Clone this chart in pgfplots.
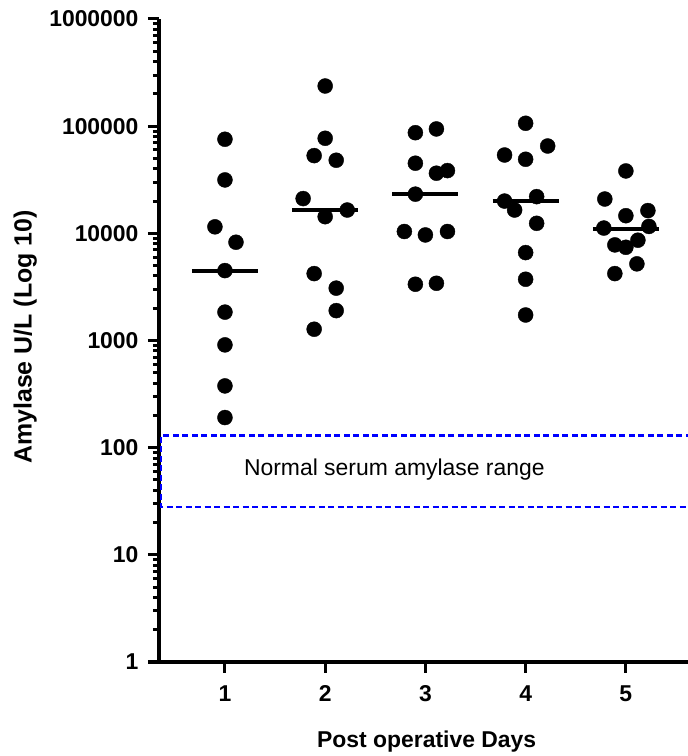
\documentclass[border=0pt]{standalone}
\usepackage{pgfplots}
\pgfplotsset{compat=1.18}
\usepackage{fontspec}
\setmainfont{Liberation Sans}

\newcommand{\lbl}{\fontsize{23}{27}\selectfont\bfseries}

\begin{document}
\begin{tikzpicture}
\begin{axis}[
  at={(159bp,94bp)}, anchor=south west,
  scale only axis, width=529bp, height=643bp,
  ymode=log, ymin=1, ymax=1000000,
  xmin=0.342, xmax=5.62,
  axis x line=bottom, axis y line=left,
  axis line style={-, line width=4bp},
  xtick={1,2,3,4,5},
  xticklabels={1,2,3,4,5},
  ytick={1,10,100,1000,10000,100000,1000000},
  yticklabels={1,10,100,1000,10000,100000,1000000},
  minor ytick={2,3,4,5,6,7,8,9,20,30,40,50,60,70,80,90,
    200,300,400,500,600,700,800,900,2000,3000,4000,5000,6000,7000,8000,9000,
    20000,30000,40000,50000,60000,70000,80000,90000,
    200000,300000,400000,500000,600000,700000,800000,900000},
  tick align=outside,
  major tick length=11bp, minor tick length=6bp,
  every tick/.style={black, line width=3bp},
  ticklabel style={font=\lbl},
  yticklabel style={xshift=-6bp},
  xticklabel style={yshift=-9bp},
  xlabel={Post operative Days},
  ylabel={Amylase U/L (Log 10)},
  xlabel style={font=\fontsize{23}{27}\selectfont\bfseries,
    at={(axis description cs:0.506,-0.1244)}, anchor=center},
  ylabel style={font=\fontsize{25}{29}\selectfont\bfseries,
    at={(axis description cs:-0.253,0.5054)}, anchor=center, rotate=0},
  clip=false,
]
% normal range box
\addplot[blue, line width=2.2bp, dash pattern=on 6bp off 3.5bp]
  coordinates {(5.75,130) (0.36,130) (0.36,28) (5.75,28)};
\node[font=\fontsize{23}{27}\selectfont] at (axis cs:2.69,63) {Normal serum amylase range};

% day 1
\addplot[only marks, mark=*, mark size=7.5bp, black] coordinates {
  (1,75500) (1,31500) (0.9,11500) (1.11,8260) (1,4490)
  (1,1840) (1,910) (1,377) (1,191)};
% day 2
\addplot[only marks, mark=*, mark size=7.5bp, black] coordinates {
  (2,237000) (2,77100) (1.89,53100) (2.11,48100) (1.78,21100) (2.22,16500)
  (2,14300) (1.89,4210) (2.11,3080) (2.11,1900) (1.89,1274)};
% day 3
\addplot[only marks, mark=*, mark size=7.5bp, black] coordinates {
  (2.9,86900) (3.11,94200) (2.9,45100) (3.11,36400) (3.22,38500) (2.9,23200)
  (2.79,10400) (3,9660) (3.22,10400) (2.9,3350) (3.11,3420)};
% day 4
\addplot[only marks, mark=*, mark size=7.5bp, black] coordinates {
  (4,106400) (4.22,65300) (3.79,53800) (4,49100) (3.79,20000) (4.11,22000)
  (3.89,16500) (4.11,12400) (4,6610) (4,3730) (4,1730)};
% day 5
\addplot[only marks, mark=*, mark size=7.5bp, black] coordinates {
  (5,38200) (4.79,20900) (5.22,16300) (5,14600) (4.78,11200) (5.23,11600)
  (5.12,8630) (4.89,7800) (5,7410) (5.11,5190) (4.89,4210)};

% medians
\addplot[black, line width=4bp] coordinates {(0.67,4490) (1.33,4490)};
\addplot[black, line width=4bp] coordinates {(1.67,16500) (2.33,16500)};
\addplot[black, line width=4bp] coordinates {(2.67,23200) (3.33,23200)};
\addplot[black, line width=4bp] coordinates {(3.67,20000) (4.33,20000)};
\addplot[black, line width=4bp] coordinates {(4.67,11000) (5.33,11000)};
\end{axis}
\pgfresetboundingbox
\path[use as bounding box] (0,0) rectangle (688bp,756bp);
\end{tikzpicture}
\end{document}
